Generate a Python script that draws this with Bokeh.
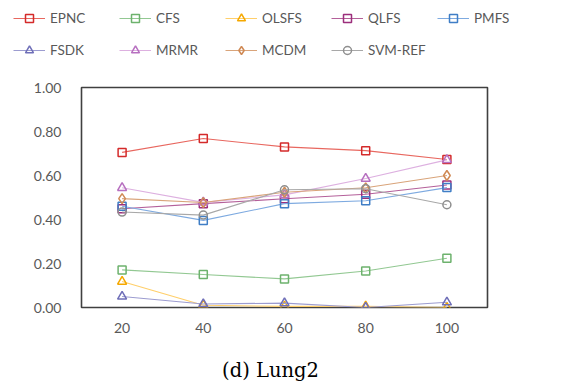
from bokeh.plotting import figure
from bokeh.layouts import column
from bokeh.models import Legend, LegendItem, Label, FactorRange, Range1d, FixedTicker, NumeralTickFormatter
from bokeh.embed import file_html
from bokeh.resources import INLINE

# Number of selected features on the x axis
features = ["20", "40", "60", "80", "100"]

# Classification accuracy per method
epnc = [0.705, 0.768, 0.730, 0.713, 0.673]
cfs = [0.171, 0.150, 0.130, 0.166, 0.224]
olsfs = [0.118, 0.010, 0.005, 0.005, 0.000]
qlfs = [0.449, 0.472, 0.494, 0.515, 0.557]
pmfs = [0.460, 0.396, 0.472, 0.485, 0.545]
fsdk = [0.050, 0.016, 0.020, 0.000, 0.024]
mrmr = [0.544, 0.478, 0.512, 0.586, 0.671]
mcdm = [0.495, 0.477, 0.524, 0.544, 0.600]
svm_ref = [0.434, 0.420, 0.535, 0.540, 0.467]

y_ticks = [0.0, 0.2, 0.4, 0.6, 0.8, 1.0]
caption = "(d) Lung2"

series = [
    ("EPNC", epnc, "square", "#D42A2A", "#E8675F"),
    ("CFS", cfs, "square", "#6DB26D", "#92C892"),
    ("OLSFS", olsfs, "triangle", "#F5A800", "#FFCF6A"),
    ("QLFS", qlfs, "square", "#9C2F7C", "#B4609A"),
    ("PMFS", pmfs, "square", "#3F7EC6", "#7EAAE0"),
    ("FSDK", fsdk, "triangle", "#6F6FB8", "#9C9CD0"),
    ("MRMR", mrmr, "triangle", "#B770C0", "#DDB0E0"),
    ("MCDM", mcdm, "diamond", "#D08A55", "#D9A47A"),
    ("SVM-REF", svm_ref, "circle", "#8F8F8F", "#A8A8A8"),
]
marker_size = {"square": 8, "triangle": 9, "diamond": 10, "circle": 8}

WIDTH = 562
LEG_H = 70     # legend strip on top
CAP_H = 36     # caption strip at the bottom
MAIN_H = 381 - LEG_H - CAP_H


def draw_series(fig):
    out = []
    for name, vals, marker, mcol, lcol in series:
        lr = fig.line(features, vals, line_color=lcol, line_width=1.1)
        mr = fig.scatter(features, vals, marker=marker, size=marker_size[marker],
                         line_color=mcol, line_width=1.5, fill_alpha=0)
        out.append(LegendItem(label=name, renderers=[lr, mr]))
    return out


def blank_strip(height):
    f = figure(
        width=WIDTH, height=height,
        x_range=FactorRange(*features, range_padding=0), y_range=Range1d(5, 6),
        output_backend="svg", toolbar_location=None, x_axis_type=None, y_axis_type=None,
        min_border_left=0, min_border_right=0, min_border_top=0, min_border_bottom=0,
    )
    f.frame_align = False
    f.grid.visible = False
    f.outline_line_color = None
    f.border_fill_color = "white"
    return f


# Main chart
p = figure(
    width=WIDTH, height=MAIN_H,
    x_range=FactorRange(*features, range_padding=0),
    y_range=Range1d(0, 1),
    output_backend="svg", toolbar_location=None,
    min_border_left=81, min_border_right=75, min_border_top=17, min_border_bottom=38,
)
p.frame_align = False
p.xgrid.grid_line_color = None
p.ygrid.grid_line_color = None
p.outline_line_color = "#404040"
p.outline_line_width = 1.6
p.background_fill_color = "white"
p.border_fill_color = "white"

for ax in (p.xaxis[0], p.yaxis[0]):
    ax.axis_line_color = None
    ax.major_tick_line_color = None
    ax.minor_tick_line_color = None
    ax.major_label_text_font = "Lato"
    ax.major_label_text_font_size = "14px"
    ax.major_label_text_color = "#595959"
p.yaxis[0].ticker = FixedTicker(ticks=y_ticks)
p.yaxis[0].formatter = NumeralTickFormatter(format="0.00")
p.yaxis[0].major_label_standoff = 14
p.xaxis[0].major_label_standoff = 9

draw_series(p)

# Legend strip above the chart; its y range sits above the data so only
# the legend entries are visible here
leg = blank_strip(LEG_H)
items = draw_series(leg)


def make_legend(its, bottom_y):
    return Legend(
        items=its, orientation="horizontal",
        location=(13, LEG_H - bottom_y),
        glyph_width=32, glyph_height=20, label_standoff=5, label_width=69,
        spacing=0, padding=0, margin=0,
        border_line_color=None, background_fill_alpha=0,
        label_text_font="Lato", label_text_font_size="13.5px",
        label_text_color="#595959",
    )


leg.add_layout(make_legend(items[:5], 28))
leg.add_layout(make_legend(items[5:], 60))

# Caption strip
cap = blank_strip(CAP_H)
cap.add_layout(Label(
    x=270, y=CAP_H - 25, x_units="screen", y_units="screen",
    text=caption, text_align="center", text_baseline="middle",
    text_font="DejaVu Serif", text_font_size="19.5px", text_color="black",
))

layout = column(leg, p, cap, spacing=0)
open("out.html", "w").write(file_html(layout, INLINE))
